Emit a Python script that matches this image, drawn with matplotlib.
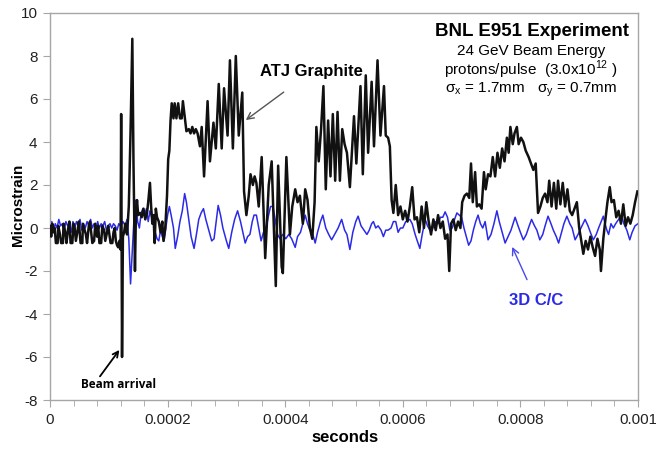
import matplotlib
matplotlib.use("Agg")
import matplotlib.pyplot as plt
import numpy as np

plt.rcParams['font.family'] = ['Liberation Sans', 'DejaVu Sans']
plt.rcParams['mathtext.fontset'] = 'custom'
plt.rcParams['mathtext.rm'] = 'Liberation Sans'

# ATJ Graphite (black) : time in microseconds, microstrain
atj_t_us = [0, 2, 4, 6, 8, 10, 13, 14, 17, 19, 22, 23, 26, 28, 31, 33, 35, 38, 40, 42, 44, 47, 49,
            52, 55, 56, 58, 61, 63, 66, 68, 70, 72, 75, 77, 80, 82, 84, 87, 89, 92, 94, 97, 99,
            101, 103, 106, 108, 110, 112, 114, 116, 118, 120, 121, 122.5, 124, 126, 128, 131, 134,
            137, 140, 142, 144.5, 146, 148, 150, 153, 156, 159, 162, 165, 167, 170, 172, 174, 176,
            178, 180, 182, 185, 188, 191, 193, 196, 199, 201, 203, 205, 207, 210, 212, 215, 218,
            221, 224, 226, 229, 232, 236, 239, 242, 245, 248, 251, 255, 258, 262, 268, 272, 278,
            282, 287, 292, 296, 302, 306, 311, 316, 321, 327, 330, 334, 338, 341, 345, 348, 351,
            355, 360, 366, 372, 377, 384, 388, 394, 396, 402, 408, 412, 417, 421, 425, 430, 434,
            438, 442, 446, 450, 453, 457, 461, 465, 469, 473, 477, 481, 485, 489, 493, 497, 501,
            505, 510, 517, 521, 528, 532, 537, 541, 547, 551, 557, 562, 568, 571, 575, 578, 581,
            584, 588, 592, 596, 600, 604, 608, 612, 616, 620, 624, 628, 632, 636, 640, 644, 648,
            652, 656, 660, 664, 668, 672, 676, 679, 682, 686, 690, 694, 698, 701, 705, 709, 713,
            716, 719, 723, 726, 730, 734, 738, 741, 745, 749, 753, 757, 761, 765, 769, 773, 777,
            780, 783, 787, 790, 794, 797, 801, 805, 809, 814, 818, 822, 826, 830, 834, 838, 842,
            846, 849, 853, 857, 861, 864, 868, 872, 876, 880, 884, 888, 892, 896, 900, 903, 907,
            911, 915, 919, 923, 927, 931, 935, 937, 941, 945, 948, 952, 955, 959, 963, 967, 971,
            975, 979, 983, 987, 991, 995, 999]
atj_strain = [0.1, -0.4, 0.2, -0.2, 0.0, -0.7, -0.7, 0.1, -0.3, -0.7, -0.7, 0.2, -0.2, -0.7, 0.0, 0.3,
              -0.7, -0.7, 0.2, 0.0, -0.6, -0.1, 0.3, -0.7, -0.7, 0.2, 0.0, -0.3, -0.7, 0.1, 0.3, -0.2,
              -0.7, -0.6, 0.2, -0.4, 0.1, -0.7, -0.7, 0.1, -0.1, -0.6, -0.2, 0.1, -0.3, -0.7, -0.7,
              -0.2, 0.0, -0.6, -0.8, -0.9, -0.6, -1.0, 5.3, -6.0, -0.4, -0.2, 0.2, -0.3, 1.0, 4.5,
              8.8, 3.0, -2.0, 0.5, 1.3, 0.6, 0.7, 0.5, 0.9, 0.4, 0.7, 1.2, 2.1, 1.0, 0.2, 0.6, -0.7,
              0.9, 0.5, 0.3, -0.2, 0.3, -0.6, 0.0, 1.5, 3.2, 3.6, 5.0, 5.8, 5.1, 5.8, 5.1, 5.8, 5.1,
              5.1, 5.9, 5.2, 4.5, 4.6, 4.4, 4.7, 4.4, 4.6, 4.4, 3.8, 4.7, 2.4, 5.9, 3.1, 4.9, 3.7,
              6.7, 3.7, 6.5, 4.3, 7.8, 3.7, 8.0, 4.3, 6.3, 1.7, 0.6, 1.5, 2.5, 2.0, 2.4, 2.1, 1.0,
              3.3, -1.4, 2.0, 3.1, -2.7, 2.9, -1.8, -2.1, 3.3, -0.3, 1.0, 1.8, 1.2, 1.5, 0.2, 1.8,
              1.3, 0.0, -0.5, 1.2, 4.7, 3.1, 4.6, 6.6, 1.8, 5.0, 2.4, 5.3, 2.2, 5.4, 2.2, 4.6, 3.9,
              3.5, 1.9, 5.2, 3.0, 6.6, 2.5, 7.1, 3.5, 6.8, 3.8, 7.8, 4.3, 6.6, 4.3, 4.2, 3.8, 1.3,
              0.7, 2.0, 0.6, 1.0, 0.4, 0.8, 0.3, 1.0, 1.9, 0.4, 0.5, -0.2, 1.0, 0.0, 1.2, 0.3, -0.3,
              0.4, -0.1, 0.6, 0.0, 0.3, -0.5, -0.3, -2.0, 0.2, 0.4, -0.1, 0.3, 0.0, 1.2, 1.5, 1.6,
              1.4, 3.0, 1.2, 2.6, 1.0, 1.1, 0.9, 2.6, 1.8, 2.5, 2.4, 3.3, 2.4, 3.5, 2.8, 3.7, 3.1,
              4.2, 3.5, 4.7, 3.9, 4.4, 4.7, 3.9, 4.2, 4.0, 3.6, 3.3, 3.0, 2.7, 3.0, 0.7, 1.0, 1.4,
              1.6, 1.2, 2.2, 1.0, 2.1, 0.9, 2.2, 1.1, 2.1, 1.0, 1.8, 0.8, 0.6, 0.9, 1.2, 0.0, -0.5,
              -1.2, -0.6, -1.0, -0.4, -0.9, -1.3, -0.5, -1.0, -2.0, -0.5, 0.5, 1.2, 1.9, 1.2, 1.3,
              0.5, 0.8, 0.2, 1.1, 0.1, 0.5, 0.2, 0.6, 1.2, 1.7]

# 3D C/C (blue)
cc_t_us = [0, 3, 6, 9, 12, 15, 18, 21, 24, 27, 30, 33, 36, 39, 42, 45, 48, 51, 54, 57, 60, 63, 66,
           69, 72, 75, 78, 81, 84, 87, 90, 93, 96, 99, 102, 105, 108, 111, 114, 117, 120, 124, 128,
           131, 134, 137, 140, 143, 146, 149, 152, 155, 158, 161, 164, 167, 170, 173, 176, 179,
           182, 185, 188, 191, 194, 197, 200, 203, 206, 210, 213, 217, 221, 225, 229, 232, 236,
           240, 245, 249, 253, 257, 261, 265, 269, 275, 279, 283, 286, 290, 294, 300, 304, 309,
           314, 319, 324, 328, 332, 336, 340, 344, 347, 351, 355, 359, 363, 367, 371, 375, 379,
           383, 387, 391, 396, 401, 406, 411, 417, 421, 426, 431, 434, 438, 442, 447, 451, 455,
           460, 464, 469, 474, 479, 484, 490, 496, 501, 505, 510, 515, 520, 524, 529, 534, 539,
           543, 547, 550, 554, 558, 563, 567, 571, 575, 580, 584, 588, 592, 596, 600, 605, 612,
           616, 621, 624, 629, 633, 638, 642, 646, 650, 655, 660, 664, 668, 672, 676, 680, 684,
           688, 692, 696, 700, 704, 708, 712, 716, 720, 724, 728, 732, 736, 740, 745, 750, 755,
           760, 764, 769, 774, 779, 784, 791, 796, 800, 805, 810, 815, 819, 824, 828, 833, 838,
           842, 847, 852, 856, 861, 865, 870, 874, 879, 884, 888, 893, 898, 903, 910, 915, 919,
           924, 929, 933, 941, 944, 947, 950, 954, 958, 962, 967, 972, 976, 981, 986, 990, 995,
           1000]
cc_strain = [0.1, 0.3, -0.1, 0.2, 0.0, 0.4, 0.1, 0.2, -0.1, 0.3, 0.1, 0.2, -0.2, 0.3, 0.0, 0.3, 0.1,
             0.4, -0.1, 0.2, 0.0, 0.3, 0.1, 0.4, 0.0, 0.2, -0.1, 0.3, 0.0, 0.2, 0.1, 0.3, -0.1, 0.1,
             0.2, 0.0, 0.2, 0.1, -0.1, 0.2, 0.1, 0.3, 0.1, 0.4, -0.5, -2.6, -1.0, 0.5, 1.3, 0.3, 0.0,
             0.7, 0.9, 0.6, 0.9, 0.3, 0.8, 0.5, 0.4, -0.2, -0.5, -0.6, -0.1, -0.4, -0.6, 0.0, 0.6,
             1.0, 0.6, 0.0, -0.95, -0.4, 0.3, 0.8, 1.6, 1.2, 0.4, -0.4, -0.95, -0.3, 0.4, 0.7, 0.9,
             0.4, 0.0, -0.6, -0.5, 0.4, 1.05, 0.6, 0.0, -0.6, -0.95, -0.2, 0.4, 0.8, 0.3, -0.2, -0.7,
             -0.4, -0.3, 0.3, 0.6, 0.6, 0.0, -0.6, -0.2, -0.1, 0.5, 1.0, 1.0, 0.4, -0.3, -0.5, -0.3,
             -0.5, -0.3, -0.5, -0.9, -0.4, -0.2, 0.3, 0.6, 0.2, -0.1, -0.3, -0.7, -0.2, 0.3, 0.6,
             0.0, -0.3, -0.55, -0.3, 0.0, 0.4, -0.1, -0.3, -1.0, -0.2, 0.3, 0.55, 0.1, -0.1, -0.3,
             -0.1, 0.2, 0.3, 0.0, 0.1, -0.1, -0.4, -0.1, -0.1, 0.0, 0.3, 0.3, -0.2, 0.0, 0.0, 0.3,
             0.4, 0.2, -0.3, -0.55, -0.95, -0.3, 0.4, 0.1, -0.1, -0.1, 0.3, 0.2, 0.5, 0.5, 0.75, 0.5,
             -0.1, 0.0, 0.4, 0.7, 0.6, 0.5, 0.0, -0.4, -0.8, -0.6, -0.1, 0.3, 0.6, 0.2, 0.0, 0.3,
             -0.55, -0.3, 0.2, 0.8, 0.3, -0.2, -0.7, -0.4, -0.1, 0.5, 0.1, -0.2, -0.55, -0.3, 0.1,
             0.4, 0.1, -0.1, -0.55, -0.3, 0.1, 0.55, 0.2, -0.1, -0.4, -0.7, -0.2, 0.2, 0.55, 0.2,
             0.0, -0.55, -0.3, 0.0, 0.4, 0.1, -0.2, -0.55, -0.3, 0.0, 0.55, 0.2, -0.1, -0.3, 0.2,
             0.0, 0.2, 0.4, 0.55, 0.2, -0.1, -0.55, -0.2, 0.1, 0.2]

x_ticks = [0, 0.0002, 0.0004, 0.0006, 0.0008, 0.001]
x_tick_labels = ['0', '0.0002', '0.0004', '0.0006', '0.0008', '0.001']
y_ticks = [-8, -6, -4, -2, 0, 2, 4, 6, 8, 10]

W, H = 656, 454
fig = plt.figure(figsize=(W / 100, H / 100), dpi=100)
ax = fig.add_axes([50 / W, 1 - 400 / H, 588 / W, 387 / H])

atj_t = np.array(atj_t_us) * 1e-6
cc_t = np.array(cc_t_us) * 1e-6
ax.plot(cc_t, cc_strain, color='#2a2ae8', lw=1.1, zorder=2)
ax.plot(atj_t, atj_strain, color='#111111', lw=1.8, zorder=3)

ax.set_xlim(0, 0.001)
ax.set_ylim(-8, 10)
ax.set_xticks(x_ticks)
ax.set_xticklabels(x_tick_labels)
ax.set_xticks(np.arange(0, 0.00100001, 0.00004), minor=True)
ax.set_yticks(y_ticks)
ax.set_yticklabels([str(v) for v in y_ticks])
grey = '#a6a6a6'
for s in ax.spines.values():
    s.set_color(grey)
    s.set_linewidth(1.0)
ax.tick_params(axis='both', which='both', direction='out', color=grey, labelsize=11,
               labelcolor='#222222')
ax.tick_params(axis='both', which='major', length=5, pad=4)
ax.tick_params(axis='x', which='minor', length=4)

fig.text(18 / W, 1 - 205 / H, 'Microstrain', rotation=90, ha='center', va='center',
         fontsize=11, fontweight='bold')
fig.text(345 / W, 1 - 438 / H, 'seconds', ha='center', va='center', fontsize=12,
         fontweight='bold')

ax.annotate('ATJ Graphite', xy=(0.000333, 5.02), xytext=(0.000444, 7.26),
            ha='center', va='center', fontsize=12, fontweight='bold',
            arrowprops=dict(arrowstyle='->', color='#555555', lw=1.0,
                            shrinkA=12, shrinkB=0))
ax.text(0.000116, -7.3, 'Beam arrival', ha='center', va='center', fontsize=8.5,
        fontweight='bold', family=['Open Sans', 'DejaVu Sans'])
ax.annotate('', xy=(0.000118, -5.67), xytext=(0.000085, -6.9),
            arrowprops=dict(arrowstyle='->', color='black', lw=1.3,
                            shrinkA=0, shrinkB=0))
ax.annotate('3D C/C', xy=(0.000786, -0.88), xytext=(0.000827, -3.35),
            ha='center', va='center', fontsize=12, fontweight='bold', color='#2a2ae8',
            arrowprops=dict(arrowstyle='->', color='#4a4ae8', lw=1.0,
                            shrinkA=8, shrinkB=0))

ax.text(0.000819, 9.12, 'BNL E951 Experiment', ha='center', va='center',
        fontsize=13.5, fontweight='bold')
ax.text(0.000818, 8.22, '24 GeV Beam Energy', ha='center', va='center', fontsize=11)
ax.text(0.000818, 7.36, r'protons/pulse  (3.0x10$^\mathregular{12}$ )', ha='center',
        va='center', fontsize=11)
ax.text(0.000818, 6.42, r'σ$_\mathregular{x}$ = 1.7mm   σ$_\mathregular{y}$ = 0.7mm',
        ha='center', va='center', fontsize=11)

fig.savefig('out.png', dpi=100)
